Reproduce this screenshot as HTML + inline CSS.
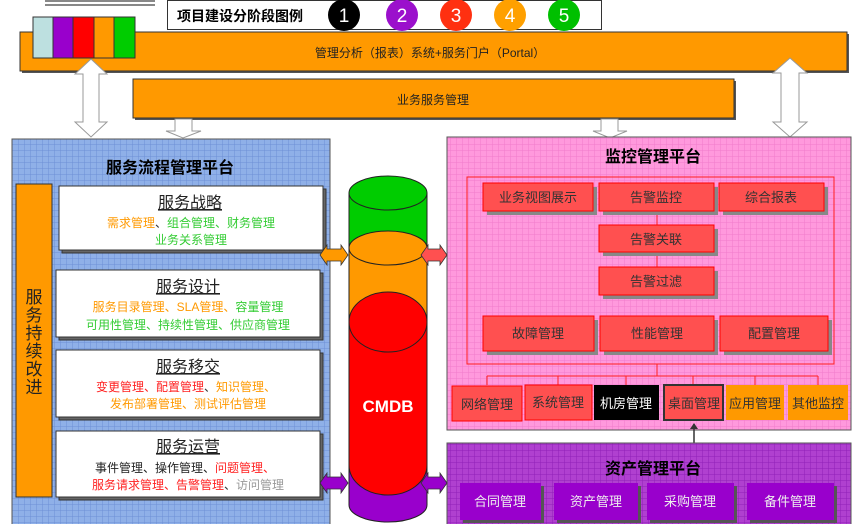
<!DOCTYPE html>
<html><head><meta charset="utf-8"><style>
body{margin:0;background:#fff;}
svg{display:block;font-family:"Liberation Sans","Noto Sans CJK SC",sans-serif;}
</style></head><body>
<svg width="855" height="524" viewBox="0 0 855 524" xmlns="http://www.w3.org/2000/svg">
<defs>
<pattern id="gb" width="6" height="6" patternUnits="userSpaceOnUse"><rect width="6" height="6" fill="#8fb0e8"/><path d="M0 0H6M0 0V6" stroke="#6d8fd6" stroke-width="1"/></pattern>
<pattern id="gp" width="6" height="6" patternUnits="userSpaceOnUse"><rect width="6" height="6" fill="#ff99dd"/><path d="M0 0H6M0 0V6" stroke="#f07ccc" stroke-width="1"/></pattern>
<pattern id="gv" width="6" height="6" patternUnits="userSpaceOnUse"><rect width="6" height="6" fill="#b040d0"/><path d="M0 0H6M0 0V6" stroke="#9020b8" stroke-width="1"/></pattern>
</defs>
<!-- logo bars -->
<g fill="#888"><rect x="45" y="0" width="110" height="2"/><rect x="45" y="4" width="110" height="2"/></g>
<!-- legend -->
<rect x="167.5" y="0.5" width="434" height="29" fill="#fff" stroke="#333"/>
<text x="177" y="21" font-size="14" font-weight="bold">项目建设分阶段图例</text>
<circle cx="344" cy="15" r="16" fill="#000"/><text x="344" y="22" font-size="19" fill="#fff" text-anchor="middle">1</text>
<circle cx="402" cy="15" r="16" fill="#9b10cc"/><text x="402" y="22" font-size="19" fill="#fff" text-anchor="middle">2</text>
<circle cx="456" cy="15" r="16" fill="#ff3010"/><text x="456" y="22" font-size="19" fill="#fff" text-anchor="middle">3</text>
<circle cx="510" cy="15" r="16" fill="#ffa000"/><text x="510" y="22" font-size="19" fill="#fff" text-anchor="middle">4</text>
<circle cx="564" cy="15" r="16" fill="#00c000"/><text x="564" y="22" font-size="19" fill="#fff" text-anchor="middle">5</text>
<!-- orange bars -->
<rect x="22" y="34" width="827" height="39" fill="#555"/>
<rect x="20" y="32" width="827" height="39" fill="#ff9900" stroke="#333"/>
<text x="430" y="57" font-size="12" text-anchor="middle" fill="#222">管理分析（报表）系统+服务门户（Portal）</text>
<rect x="135" y="81" width="601" height="39" fill="#555"/>
<rect x="133" y="79" width="601" height="39" fill="#ff9900" stroke="#333"/>
<text x="433" y="104" font-size="12" text-anchor="middle" fill="#222">业务服务管理</text>
<!-- color strip -->
<rect x="33" y="17" width="20" height="41" fill="#bde0e0" stroke="#333"/>
<rect x="53" y="17" width="20" height="41" fill="#9900cc" stroke="#333"/>
<rect x="73" y="17" width="21" height="41" fill="#ff0000" stroke="#333"/>
<rect x="94" y="17" width="20" height="41" fill="#ff9900" stroke="#333"/>
<rect x="114" y="17" width="21" height="41" fill="#00cc00" stroke="#333"/>
<!-- white arrows -->
<g fill="#fff" stroke="#999" stroke-width="1">
<path d="M91 59 L107 74 L99 74 L99 122 L107 122 L91 137 L75 122 L83 122 L83 74 L75 74 Z"/>
<path d="M175 119 L192 119 L192 131 L201 131 L183 138 L166 131 L175 131 Z"/>
<path d="M601 119 L618 119 L618 131 L627 131 L610 138 L593 131 L601 131 Z"/>
<path d="M790 58 L807 73 L799 73 L799 122 L807 122 L790 137 L773 122 L781 122 L781 73 L773 73 Z"/>
</g>
<!-- blue panel -->
<rect x="12" y="139" width="318" height="390" fill="url(#gb)" stroke="#555"/>
<text x="170" y="173" font-size="16" font-weight="bold" text-anchor="middle">服务流程管理平台</text>
<rect x="16" y="184" width="36" height="313" fill="#ff9900" stroke="#333"/>
<text font-size="17" text-anchor="middle" fill="#222"><tspan x="34" y="303">服</tspan><tspan x="34" y="321">务</tspan><tspan x="34" y="339">持</tspan><tspan x="34" y="357">续</tspan><tspan x="34" y="375">改</tspan><tspan x="34" y="393">进</tspan></text>
<g stroke="#333">
<rect x="62" y="189" width="264" height="64" fill="#666"/><rect x="59" y="186" width="264" height="64" fill="#fff"/>
<rect x="59" y="273" width="264" height="67" fill="#666"/><rect x="56" y="270" width="264" height="67" fill="#fff"/>
<rect x="59" y="353" width="264" height="67" fill="#666"/><rect x="56" y="350" width="264" height="67" fill="#fff"/>
<rect x="59" y="434" width="264" height="66" fill="#666"/><rect x="56" y="431" width="264" height="66" fill="#fff"/>
</g>
<g font-size="16" text-anchor="middle" fill="#222" text-decoration="underline">
<text x="190" y="208">服务战略</text><text x="188" y="292">服务设计</text><text x="188" y="372">服务移交</text><text x="188" y="452">服务运营</text>
</g>
<g font-size="12" text-anchor="middle">
<text x="191" y="227"><tspan fill="#ff9900">需求管理</tspan><tspan fill="#333">、</tspan><tspan fill="#33cc33">组合管理、财务管理</tspan></text>
<text x="191" y="244" fill="#33cc33">业务关系管理</text>
<text x="188" y="311"><tspan fill="#ff9900">服务目录管理、SLA管理、</tspan><tspan fill="#33cc33">容量管理</tspan></text>
<text x="188" y="329" fill="#33cc33">可用性管理、持续性管理、供应商管理</text>
<text x="186" y="391"><tspan fill="#ff2020">变更管理、配置管理</tspan><tspan fill="#333">、</tspan><tspan fill="#ff9900">知识管理、</tspan></text>
<text x="188" y="408" fill="#ff9900">发布部署管理、测试评估管理</text>
<text x="185" y="472"><tspan fill="#222">事件管理、操作管理、</tspan><tspan fill="#ff2020">问题管理、</tspan></text>
<text x="188" y="489"><tspan fill="#ff2020">服务请求管理、告警管理</tspan><tspan fill="#333">、</tspan><tspan fill="#999">访问管理</tspan></text>
</g>
<!-- pink panel -->
<rect x="447" y="137" width="404" height="293" fill="url(#gp)" stroke="#555"/>
<text x="653" y="162" font-size="16" font-weight="bold" text-anchor="middle">监控管理平台</text>
<rect x="467" y="177" width="367" height="187" fill="none" stroke="#ff2020"/>
<g stroke="#ff2020" fill="none"><path d="M657 211V225M657 252V267M657 364V376M487 376H818M487 376V385M558 376V385M626 376V385M693 376V385M755 376V385M818 376V385"/></g>
<g fill="#888">
<rect x="487" y="187" width="110" height="28"/><rect x="603" y="187" width="115" height="28"/><rect x="723" y="187" width="105" height="28"/>
<rect x="603" y="229" width="115" height="27"/><rect x="603" y="271" width="115" height="28"/>
<rect x="487" y="320" width="111" height="35"/><rect x="604" y="320" width="114" height="35"/><rect x="724" y="320" width="108" height="35"/>
</g>
<g fill="#ff5050" stroke="#ff0000">
<rect x="483" y="183" width="110" height="28"/><rect x="599" y="183" width="115" height="28"/><rect x="719" y="183" width="105" height="28"/>
<rect x="599" y="225" width="115" height="27"/><rect x="599" y="267" width="115" height="28"/>
<rect x="483" y="316" width="111" height="35"/><rect x="600" y="316" width="114" height="35"/><rect x="720" y="316" width="108" height="35"/>
<rect x="452" y="386" width="70" height="35"/><rect x="525" y="385" width="67" height="35"/>
</g>
<rect x="594" y="385" width="65" height="35" fill="#000"/>
<rect x="664" y="385" width="59" height="35" fill="#ff5050" stroke="#333" stroke-width="2"/>
<rect x="726" y="385" width="58" height="35" fill="#ff9900"/>
<rect x="788" y="385" width="60" height="35" fill="#ff9900"/>
<g font-size="13" text-anchor="middle" fill="#333">
<text x="538" y="202">业务视图展示</text><text x="656" y="202">告警监控</text><text x="771" y="202">综合报表</text>
<text x="656" y="244">告警关联</text><text x="656" y="286">告警过滤</text>
<text x="538" y="338">故障管理</text><text x="657" y="338">性能管理</text><text x="774" y="338">配置管理</text>
<text x="487" y="409">网络管理</text><text x="558" y="407">系统管理</text><text x="626" y="408" fill="#fff">机房管理</text>
<text x="694" y="408">桌面管理</text><text x="755" y="408">应用管理</text><text x="818" y="408">其他监控</text>
</g>
<path d="M694 424V450" stroke="#333" stroke-width="1.5"/><path d="M690 429L694 423L698 429ZM690 445L694 451L698 445Z" fill="#333"/>
<!-- purple panel -->
<rect x="447" y="443" width="404" height="86" fill="url(#gv)" stroke="#555"/>
<text x="653" y="474" font-size="16" font-weight="bold" text-anchor="middle">资产管理平台</text>
<g fill="#555"><rect x="463" y="486" width="81" height="37"/><rect x="557" y="486" width="84" height="37"/><rect x="650" y="486" width="87" height="37"/><rect x="750" y="486" width="87" height="37"/></g>
<g fill="#9900cc"><rect x="460" y="483" width="81" height="37"/><rect x="554" y="483" width="84" height="37"/><rect x="647" y="483" width="87" height="37"/><rect x="747" y="483" width="87" height="37"/></g>
<g font-size="13" text-anchor="middle" fill="#eee">
<text x="500" y="506">合同管理</text><text x="596" y="506">资产管理</text><text x="690" y="506">采购管理</text><text x="790" y="506">备件管理</text>
</g>
<!-- CMDB cylinder -->
<g stroke="#222" stroke-width="1">
<path d="M349 470 V505 A39 17 0 0 0 427 505 V470 Z" fill="#9900cc"/>
<path d="M349 193 V470 H427 V193 Z" fill="#00cc00"/>
<path d="M349 248 V470 H427 V248 Z" fill="#ff9900" stroke="none"/>
<ellipse cx="388" cy="193" rx="39" ry="17" fill="#00cc00"/>
<ellipse cx="388" cy="248" rx="39" ry="17" fill="#ff9900"/>
<path d="M349 322 A39 30 0 0 1 427 322 V465 A39 30 0 0 1 349 465 Z" fill="#ff0000"/>
<path d="M349 322 A39 30 0 0 0 427 322" fill="none"/>
<path d="M349 193 V505 M427 193 V505" fill="none"/>
</g>
<text x="388" y="412" font-size="17" font-weight="bold" fill="#fff" text-anchor="middle">CMDB</text>
<!-- side arrows -->
<g stroke="#333" stroke-width="0.8">
<path d="M320 255 L327 245 L327 249 L341 249 L341 245 L348 255 L341 265 L341 261 L327 261 L327 265 Z" fill="#ff9900"/>
<path d="M421 255 L428 245 L428 249 L440 249 L440 245 L447 255 L440 265 L440 261 L428 261 L428 265 Z" fill="#ff5050"/>
<path d="M320 483 L327 473 L327 477 L341 477 L341 473 L348 483 L341 493 L341 489 L327 489 L327 493 Z" fill="#9900cc"/>
<path d="M421 483 L428 473 L428 477 L440 477 L440 473 L447 483 L440 493 L440 489 L428 489 L428 493 Z" fill="#9900cc"/>
</g>
</svg>
</body></html>
